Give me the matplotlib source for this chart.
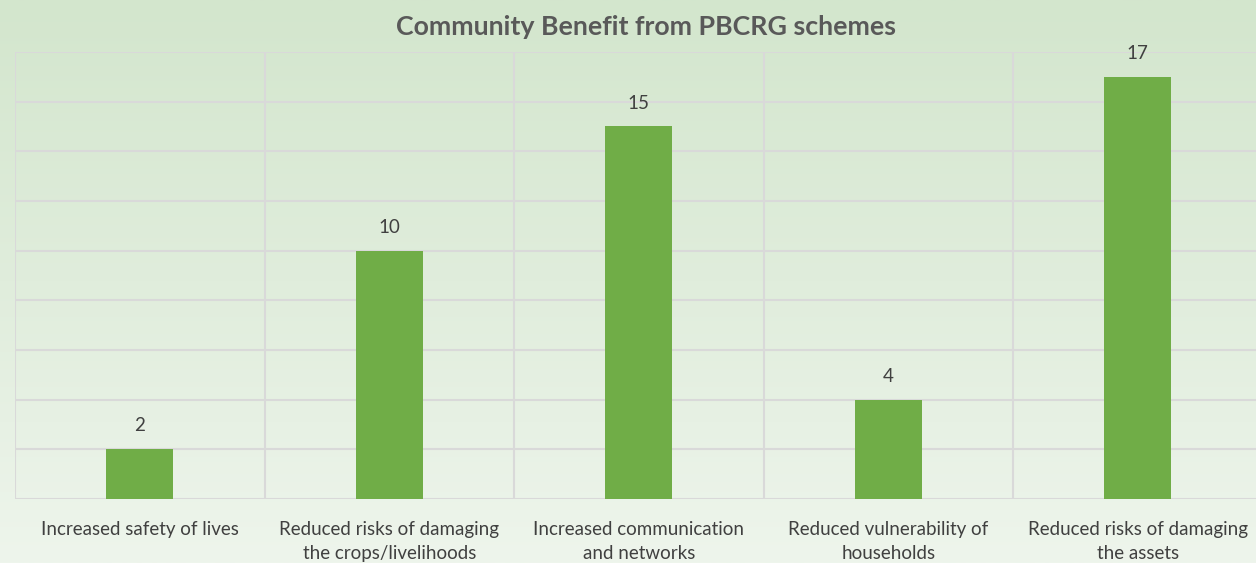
import numpy as np
import matplotlib
matplotlib.use('Agg')
import matplotlib.pyplot as plt
from matplotlib.colors import LinearSegmentedColormap

categories = [
    'Increased safety of lives',
    'Reduced risks of damaging\nthe crops/livelihoods',
    'Increased communication\nand networks',
    'Reduced vulnerability of\nhouseholds',
    'Reduced risks of damaging\nthe assets',
]
counts = [2, 10, 15, 4, 17]
y_ticks = [0, 2, 4, 6, 8, 10, 12, 14, 16, 18]

plt.rcParams['font.family'] = ['Lato', 'DejaVu Sans']

fig = plt.figure(figsize=(12.56, 5.63), dpi=100)

# soft green gradient behind everything
bg = fig.add_axes([0, 0, 1, 1], zorder=0)
grad = LinearSegmentedColormap.from_list('bg', ['#d3e6cd', '#e0eddc', '#eef5ec'])
bg.imshow(np.linspace(0, 1, 256).reshape(-1, 1), aspect='auto', cmap=grad,
          extent=[0, 1, 0, 1], origin='upper')
bg.axis('off')

ax = fig.add_axes([15 / 1256, 64 / 563, 1247.5 / 1256, 447 / 563], zorder=1)
ax.patch.set_alpha(0)

x = np.arange(len(categories))
bars = ax.bar(x, counts, width=0.27, color='#70ad47', zorder=3)

for rect, v in zip(bars, counts):
    ax.text(rect.get_x() + rect.get_width() / 2, v + 0.6, str(v),
            ha='center', va='bottom', fontsize=13.5, color='#404040')

ax.set_xlim(-0.5, len(categories) - 0.5)
ax.set_ylim(0, 18)
ax.set_yticks(y_ticks)
ax.set_xticks(x, categories, fontsize=13.5, color='#404040', linespacing=1.5)
ax.set_xticks(np.arange(len(categories) + 1) - 0.5, minor=True)
ax.tick_params(axis='x', which='both', length=0, pad=16)
ax.tick_params(axis='y', length=0, labelleft=False)

ax.grid(True, axis='y', color='#d9d9d9', linewidth=1.5, zorder=0)
ax.grid(True, axis='x', which='minor', color='#d9d9d9', linewidth=1.5, zorder=0)
ax.grid(False, axis='x', which='major')
for s in ax.spines.values():
    s.set_visible(False)

fig.text(0.514, 1 - 27 / 563, 'Community Benefit from PBCRG schemes',
         ha='center', va='center', fontsize=19.3, fontweight='bold', color='#595959')

fig.savefig('out.png', dpi=100)
